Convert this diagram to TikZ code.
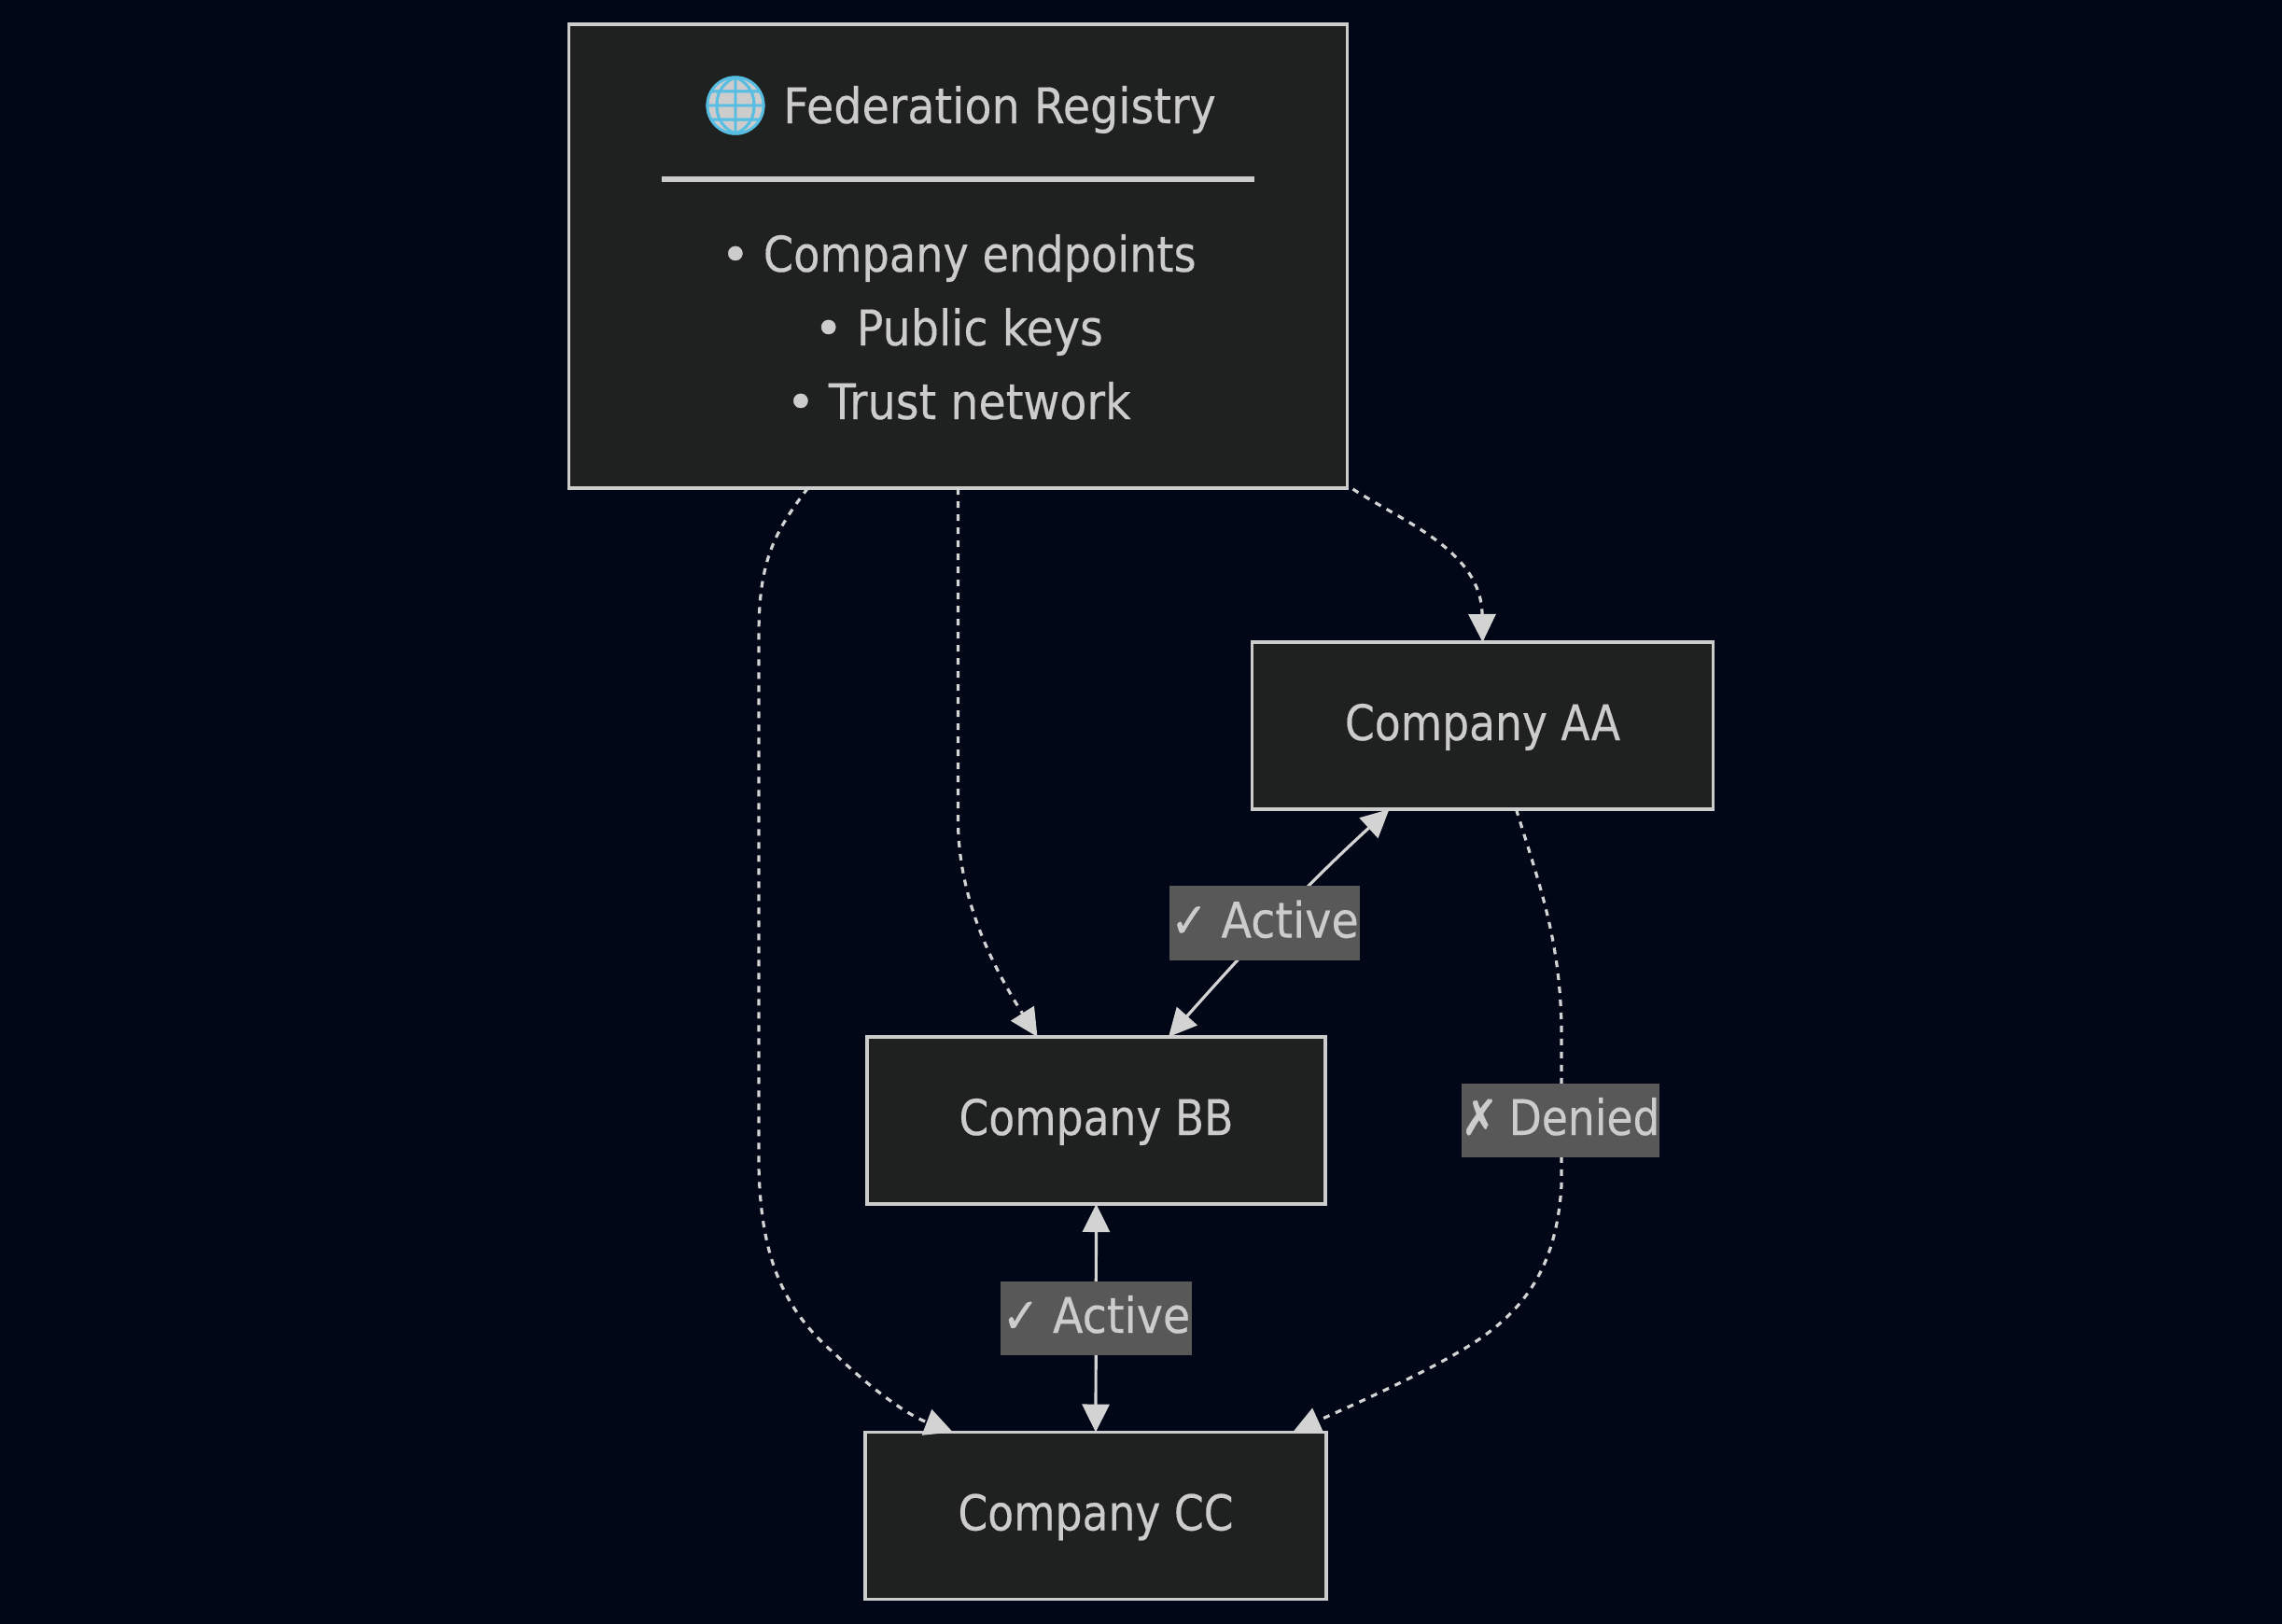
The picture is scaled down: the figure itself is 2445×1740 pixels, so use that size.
\documentclass[tikz,border=0pt]{standalone}
\usepackage{fontspec}
\setmainfont[FakeStretch=0.867,FakeBold=0.3]{DejaVu Sans}
\newfontfamily\emojifont[FakeBold=0.8]{Noto Emoji}
\newfontfamily\symfont[FakeStretch=0.9,FakeBold=0.6]{DejaVu Sans}
\newfontfamily\wideface[FakeStretch=0.905,FakeBold=0.3]{DejaVu Sans}
\newfontfamily\midface[FakeStretch=0.879,FakeBold=0.3]{DejaVu Sans}
\newfontfamily\dotface[FakeBold=0.6]{DejaVu Sans}
\usetikzlibrary{arrows.meta,calc}
\definecolor{bgc}{HTML}{010717}
\definecolor{boxc}{HTML}{1F2020}
\definecolor{inkc}{HTML}{CCCCCC}
\definecolor{tipc}{HTML}{D3D3D3}
\definecolor{labc}{HTML}{585858}
\definecolor{globec}{HTML}{56BDE3}
\tikzset{
  x=1pt,y=-1pt,
  every node/.style={font=\fontsize{52.6}{63}\selectfont,text=inkc},
  boxn/.style={draw=inkc,fill=boxc,line width=3.4pt,inner sep=0pt,outer sep=0pt,text height=46pt,text depth=15pt,align=center},
  txt/.style={inner sep=0pt,anchor=base},
  lab/.style={fill=labc,inner sep=0pt,outer sep=0pt,text height=46pt,text depth=15pt,align=center},
  solidedge/.style={draw=tipc,line width=3.2pt,{Triangle[length=30pt,width=29pt]}-{Triangle[length=30pt,width=29pt]}},
  dotedge/.style={draw=tipc,line width=3.2pt,dash pattern=on 7pt off 7pt,-{Triangle[length=30pt,width=29pt]}},
}
\begin{document}
\begin{tikzpicture}
\fill[bgc] (0,0) rectangle (2445,1740);
\useasboundingbox (0,0) rectangle (2445,1740);
% nodes
\node[boxn,minimum width=834pt,minimum height=497pt] (reg) at (1026.5,274.5) {};
\node[boxn,minimum width=494pt,minimum height=179pt] (aa) at (1588.5,777.5) {Company AA};
\node[boxn,minimum width=491pt,minimum height=179pt] (bb) at (1174.5,1200.5) {Company BB};
\node[boxn,minimum width=494pt,minimum height=179pt] (cc) at (1174,1624) {Company CC};
% registry contents
\coordinate (hl) at (709,192);
\coordinate (hr) at (1344,192);
\draw[inkc,line width=6.5pt] (hl) -- (hr);
\fill[inkc] (788,113) circle (31pt);
\node[inner sep=0pt,font=\fontsize{62}{70}\emojifont,text=globec] (globe) at (788,113) {🌐};
\node[txt,anchor=base west] (title) at (839,132) {\wideface Federation Registry};
\node[txt] (l1) at (1027,291) {{\dotface •} \midface Company endpoints};
\node[txt] (l2) at (1027,370) {{\dotface •} \wideface Public keys};
\node[txt] (l3) at (1027,449) {{\dotface •} \wideface Trust network};
% edges
\draw[dotedge] ([xshift=6pt,yshift=-1pt]reg.south east) .. controls (1505,560) and (1587,590) .. (aa.north);
\draw[dotedge] (reg.south) -- ++(0,357) .. controls (1027,960) and (1060,1030) .. ([xshift=-63pt]bb.north);
\draw[dotedge] ([xshift=-161pt]reg.south) .. controls (830,570) and (813,600) .. (813,680) -- (813,1250) .. controls (815,1340) and (835,1400) .. (895,1451) .. controls (930,1485) and (970,1515) .. ([xshift=-153pt]cc.north);
\draw[dotedge] ([xshift=36pt]aa.south) .. controls (1650,950) and (1673,1010) .. (1673,1110) -- (1673,1270) .. controls (1668,1350) and (1640,1400) .. (1577,1440) .. controls (1530,1470) and (1450,1505) .. ([xshift=211pt]cc.north);
\draw[solidedge] ([xshift=-100pt]aa.south) .. controls (1400,948) and (1340,1012) .. ([xshift=77.5pt]bb.north);
\draw[solidedge] (bb.south) -- (cc.north);
% labels
\node[lab,minimum width=204pt,minimum height=80pt] (la1) at (1355,989) {{\symfont ✓} \wideface Active};
\node[lab,minimum width=205pt,minimum height=79pt] (la2) at (1174.5,1412.5) {{\symfont ✓} \wideface Active};
\node[lab,minimum width=208pt,minimum height=79pt] (la3) at (1672,1200.5) {{\symfont ✗}\hspace{-3pt} Denied};
\end{tikzpicture}
\end{document}
